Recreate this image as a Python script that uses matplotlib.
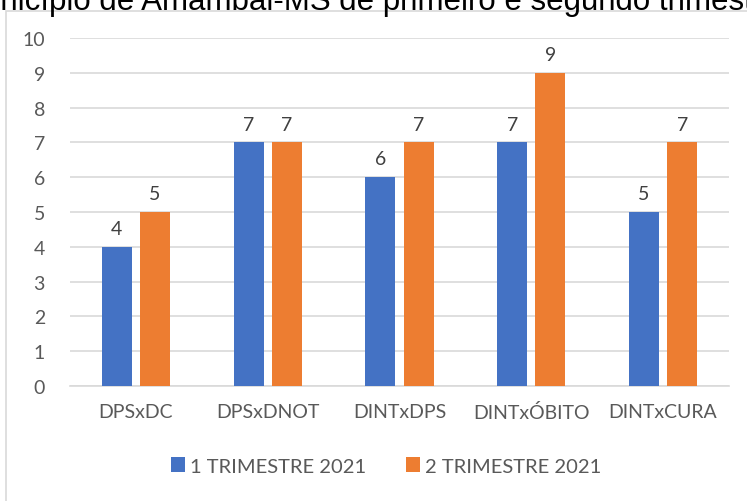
import numpy as np
import matplotlib.pyplot as plt

categorias = ["DPSxDC", "DPSxDNOT", "DINTxDPS", "DINTxÓBITO", "DINTxCURA"]
trimestre_1 = [4, 7, 6, 7, 5]
trimestre_2 = [5, 7, 7, 9, 7]
series = ["1 TRIMESTRE 2021", "2 TRIMESTRE 2021"]
titulo = "Município de Amambai-MS de primeiro e segundo trimestre de 2021"

azul = "#4472C4"
laranja = "#ED7D31"
cinza = "#D9D9D9"
texto = "#595959"

plt.rcParams['font.family'] = ['Lato', 'DejaVu Sans']

fig = plt.figure(figsize=(7.47, 5.02), dpi=100)

# moldura do gráfico (como no Excel)
moldura = plt.Rectangle((6 / 747, -0.1), 1.2, 1 - 12 / 502 + 0.1, transform=fig.transFigure,
                        fill=False, edgecolor=cinza, linewidth=1.2)
fig.patches.append(moldura)

# título cortado no topo
fig.text(-0.057, 1 - 10 / 502, titulo, fontsize=22.5, family='Liberation Sans',
         color='black', ha='left', va='baseline')

ax = fig.add_axes([70 / 747, 1 - 387 / 502, (729 - 70) / 747, (387 - 39) / 502])

x = np.arange(len(categorias))
largura = 0.228
desloc = 0.145
b1 = ax.bar(x - desloc, trimestre_1, largura, color=azul, label=series[0], zorder=3)
b2 = ax.bar(x + desloc, trimestre_2, largura, color=laranja, label=series[1], zorder=3)

for barras in (b1, b2):
    for b in barras:
        ax.annotate(f"{int(b.get_height())}", (b.get_x() + b.get_width() / 2, b.get_height()),
                    xytext=(0, 7), textcoords='offset points', ha='center', va='bottom',
                    fontsize=14, color='#404040')

ax.set_xlim(-0.5, len(categorias) - 0.5)
ax.set_ylim(0, 10)
ax.set_yticks(range(0, 11))
ax.set_xticks(x)
ax.set_xticklabels(categorias)
ax.tick_params(axis='both', length=0, labelsize=14, colors=texto)
ax.tick_params(axis='x', pad=12)
ax.tick_params(axis='y', pad=18)
ax.grid(axis='y', color=cinza, linewidth=1.2, zorder=0)
for s in ['top', 'right', 'left']:
    ax.spines[s].set_visible(False)
ax.spines['bottom'].set_color(cinza)
ax.spines['bottom'].set_linewidth(1.2)

fig.legend(handles=[b1, b2], loc='center', bbox_to_anchor=(386 / 747, 1 - 467 / 502),
           ncol=2, frameon=False, fontsize=14.5, labelcolor=texto,
           handlelength=0.7, handleheight=0.7, handletextpad=0.25, columnspacing=2.0)

fig.savefig("out.png", dpi=100)
